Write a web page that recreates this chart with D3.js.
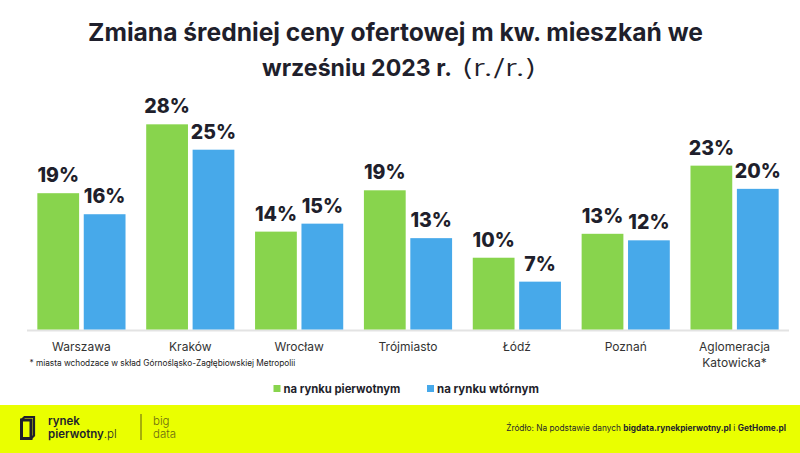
<!DOCTYPE html>
<html><head><meta charset="utf-8">
<script src="https://cdn.jsdelivr.net/npm/d3@7"></script>
<style>
html,body{margin:0;padding:0;background:#fff;}
svg{display:block;}
text{font-family:Inter,"Open Sans",sans-serif;}
</style></head>
<body>
<svg id="chart" width="800" height="453"></svg>
<script>
const categories = ["Warszawa","Kraków","Wrocław","Trójmiasto","Łódź","Poznań","Aglomeracja|Katowicka*"];
const primaryValues = [18.8, 28.3, 13.5, 19.2, 9.9, 13.2, 22.6];
const secondaryValues = [15.9, 24.8, 14.6, 12.6, 6.6, 12.3, 19.4];
const valueLabels1 = ["19%","28%","14%","19%","10%","13%","23%"];
const valueLabels2 = ["16%","25%","15%","13%","7%","12%","20%"];
const seriesNames = ["na rynku pierwotnym","na rynku wtórnym"];
const colors = ["#88d44d","#47a9ea"];
const dark = "#1f1f2c";

const svg = d3.select("#chart");
const W=800,H=453;
svg.append("rect").attr("width",W).attr("height",H).attr("fill","#fff");

function fit(sel, target){
  const w = sel.node().getComputedTextLength();
  const fs = parseFloat(sel.attr("font-size"));
  sel.attr("font-size", fs*target/w);
}

// Title
const t1 = svg.append("text").attr("x",395.5).attr("y",41).attr("text-anchor","middle")
  .attr("font-size",24).attr("font-weight",700).attr("fill",dark)
  .text("Zmiana średniej ceny ofertowej m kw. mieszkań we");
fit(t1,615);
const t2 = svg.append("text").attr("x",262).attr("y",76).attr("font-size",24).attr("font-weight",700).attr("fill",dark)
  .text("wrześniu 2023 r.");
fit(t2,190);
const t3 = svg.append("text").attr("x",461).attr("y",76).attr("font-size",t2.attr("font-size")).attr("font-weight",300).attr("fill",dark)
  .attr("textLength",76).attr("lengthAdjust","spacingAndGlyphs")
  .text("(r./r.)");

// Scales
const x0 = d3.scaleBand().domain(categories).range([27,789]).paddingInner(0.19).paddingOuter(0.095);
const x1 = d3.scaleBand().domain([0,1]).range([0,x0.bandwidth()]).paddingInner(0.1);
const y = d3.scaleLinear().domain([0,30]).range([329.5,112]);

// axis line
svg.append("line").attr("x1",27).attr("x2",789).attr("y1",330.5).attr("y2",330.5)
  .attr("stroke","#e3e3e3").attr("stroke-width",2);

const data = categories.map((c,i)=>({c, vals:[primaryValues[i],secondaryValues[i]], labs:[valueLabels1[i],valueLabels2[i]]}));
const g = svg.selectAll("g.grp").data(data).join("g").attr("class","grp")
  .attr("transform",d=>`translate(${x0(d.c)},0)`);
g.selectAll("rect").data(d=>d.vals.map((v,j)=>({v,j}))).join("rect")
  .attr("x",d=>x1(d.j)).attr("width",x1.bandwidth())
  .attr("y",d=>y(d.v)).attr("height",d=>y(0)-y(d.v))
  .attr("fill",d=>colors[d.j]);
g.selectAll("text.val").data(d=>d.vals.map((v,j)=>({v,j,l:d.labs[j]}))).join("text").attr("class","val")
  .attr("x",d=>x1(d.j)+x1.bandwidth()/2).attr("y",d=>y(d.v)-11)
  .attr("text-anchor","middle").attr("font-size",19.5).attr("font-weight",800).attr("fill",dark)
  .text(d=>d.l);

// category labels
g.each(function(d){
  const parts = d.c.split("|");
  const sel = d3.select(this);
  parts.forEach((p,k)=>{
    sel.append("text").attr("x",x0.bandwidth()/2).attr("y",351+k*15.5)
      .attr("text-anchor","middle").attr("font-size",12).attr("fill","#333")
      .text(p);
  });
});

// footnote
const fn = svg.append("text").attr("x",29.5).attr("y",366).attr("font-size",8.6).attr("fill","#222")
  .text("* miasta wchodzace w skład Górnośląsko-Zagłębiowskiej Metropolii");
fit(fn,266);

// legend
const legX = [273.5, 427];
const legW = [117, 102];
seriesNames.forEach((s,i)=>{
  svg.append("rect").attr("x",legX[i]).attr("y",385).attr("width",7).attr("height",7).attr("fill",colors[i]);
  const lt = svg.append("text").attr("x",legX[i]+10).attr("y",392.5).attr("font-size",12).attr("font-weight",700).attr("fill",dark).text(s);
  fit(lt,legW[i]);
});

// footer
svg.append("rect").attr("x",0).attr("y",405).attr("width",W).attr("height",48).attr("fill","#eaff00");
// logo icon
const lg = svg.append("g");
lg.append("path").attr("d","M21.5,420 L31,420 L31,438.5 L21.5,438.5 Z").attr("fill","none").attr("stroke","#1f1f2c").attr("stroke-width",3);
lg.append("path").attr("d","M21.5,420 L24.5,417 L34,417 L34,435.5 L31,438.5").attr("fill","none").attr("stroke","#1f1f2c").attr("stroke-width",2.2);
svg.append("text").attr("x",48).attr("y",424.5).attr("font-size",11.5).attr("font-weight",600).attr("fill","#1f1f2c").text("rynek");
const pw = svg.append("text").attr("x",48).attr("y",437.5).attr("font-size",11.5).attr("font-weight",600).attr("fill","#1f1f2c");
pw.append("tspan").text("pierwotny");
pw.append("tspan").attr("font-weight",300).text(".pl");
svg.append("line").attr("x1",141).attr("x2",141).attr("y1",414).attr("y2",440).attr("stroke","#7a7a10").attr("stroke-width",1.2);
svg.append("text").attr("x",153).attr("y",424.5).attr("font-size",11.5).attr("font-weight",300).attr("fill","#6c6c10").text("big");
svg.append("text").attr("x",153).attr("y",437.5).attr("font-size",11.5).attr("font-weight",300).attr("fill","#6c6c10").text("data");

const src = svg.append("text").attr("x",786).attr("y",431).attr("text-anchor","end").attr("font-size",8.6).attr("fill","#1f1f2c");
src.append("tspan").text("Źródło: Na podstawie danych ");
src.append("tspan").attr("font-weight",700).text("bigdata.rynekpierwotny.pl");
src.append("tspan").text(" i ");
src.append("tspan").attr("font-weight",700).text("GetHome.pl");
fit(src,280);
</script>
</body></html>
